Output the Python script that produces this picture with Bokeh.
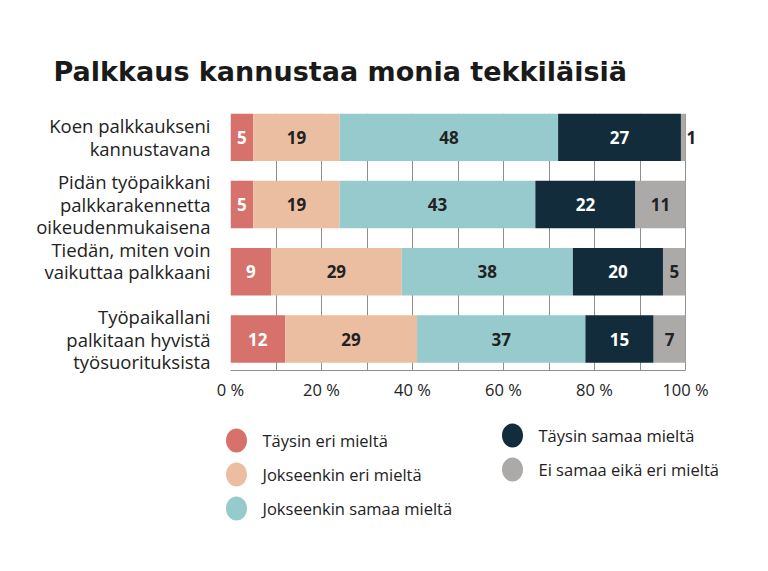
from bokeh.plotting import figure
from bokeh.models import ColumnDataSource, LabelSet, Range1d, FixedTicker
from bokeh.embed import file_html
from bokeh.resources import INLINE
from bokeh.core.properties import value

# ---- data -------------------------------------------------------------
title_text = "Palkkaus kannustaa monia tekkiläisiä"

statements = [
    "Koen palkkaukseni\nkannustavana",
    "Pidän työpaikkani\npalkkarakennetta\noikeudenmukaisena",
    "Tiedän, miten voin\nvaikuttaa palkkaani\n",
    "Työpaikallani\npalkitaan hyvistä\ntyösuorituksista",
]

series_names = [
    "Täysin eri mieltä",
    "Jokseenkin eri mieltä",
    "Jokseenkin samaa mieltä",
    "Täysin samaa mieltä",
    "Ei samaa eikä eri mieltä",
]

taysin_eri = [5, 5, 9, 12]
jokseenkin_eri = [19, 19, 29, 29]
jokseenkin_samaa = [48, 43, 38, 37]
taysin_samaa = [27, 22, 20, 15]
ei_samaa_eika_eri = [1, 11, 5, 7]

tick_values = [0, 20, 40, 60, 80, 100]
tick_labels = ["0 %", "20 %", "40 %", "60 %", "80 %", "100 %"]

# ---- styling ----------------------------------------------------------
series_values = [taysin_eri, jokseenkin_eri, jokseenkin_samaa, taysin_samaa, ei_samaa_eika_eri]
fill_colors = ["#d6716b", "#ecbea1", "#96cacc", "#122c3c", "#abaaa8"]
text_colors = ["#ffffff", "#222222", "#222222", "#ffffff", "#222222"]
grid_color = "#8e8e8e"
ink = "#222222"
font = "Open Sans"

rows = list(range(len(statements)))
totals = [sum(s[i] for s in series_values) for i in rows]

# frame is 475 px wide; 0..100 % spans 455 px, the rest leaves room for
# labels of very thin end segments
p = figure(
    width=768, height=415,
    x_range=Range1d(0, 100 * 475 / 455),
    y_range=Range1d(len(rows) - 1 + 0.468, -0.352),
    min_border_left=230, min_border_right=63,
    min_border_top=113, min_border_bottom=45,
    toolbar_location=None, output_backend="svg",
    outline_line_color=None,
)

lab_x, lab_y, lab_t, lab_c, lab_align, lab_off = [], [], [], [], [], []
cum = [0.0] * len(rows)
for vals, fc, tc in zip(series_values, fill_colors, text_colors):
    left = [cum[i] / totals[i] * 100 for i in rows]
    right = [(cum[i] + vals[i]) / totals[i] * 100 for i in rows]
    p.hbar(y=rows, left=left, right=right, height=0.705,
           fill_color=fc, line_color=None)
    for i in rows:
        if vals[i] < 3:
            lab_x.append(right[i]); lab_align.append("left"); lab_off.append(1)
            lab_c.append(ink)
        else:
            lab_x.append((left[i] + right[i]) / 2); lab_align.append("center"); lab_off.append(0)
            lab_c.append(tc)
        lab_y.append(i)
        lab_t.append(str(vals[i]))
        cum[i] += vals[i]

labels_src = ColumnDataSource(dict(x=lab_x, y=lab_y, text=lab_t, color=lab_c,
                                   align=lab_align, off=lab_off))
p.add_layout(LabelSet(
    x="x", y="y", text="text", source=labels_src,
    x_offset="off", text_align="align", text_baseline="middle",
    text_color="color", text_font=value(font), text_font_style="bold",
    text_font_size="17px",
))

# ---- axes & grid ------------------------------------------------------
p.xaxis.ticker = FixedTicker(ticks=tick_values)
p.xaxis.bounds = (0, 100)
p.xaxis.major_label_overrides = dict(zip(tick_values, tick_labels))
p.xaxis.major_tick_out = 0
p.xaxis.major_tick_in = 0
p.xaxis.minor_tick_line_color = None
p.xaxis.axis_line_color = grid_color
p.xaxis.major_label_standoff = 7
p.xaxis.major_label_text_font = font
p.xaxis.major_label_text_font_size = "16.5px"
p.xaxis.major_label_text_color = ink

p.yaxis.ticker = FixedTicker(ticks=rows)
p.yaxis.major_label_overrides = {i: s for i, s in zip(rows, statements)}
p.yaxis.major_tick_out = 0
p.yaxis.major_tick_in = 0
p.yaxis.minor_tick_line_color = None
p.yaxis.axis_line_color = None
p.yaxis.major_label_standoff = 20
p.yaxis.major_label_text_font = font
p.yaxis.major_label_text_font_size = "18.5px"
p.yaxis.major_label_text_line_height = 0.9
p.yaxis.major_label_text_color = ink
p.yaxis.major_label_text_align = "right"

p.xgrid.ticker = FixedTicker(ticks=list(range(0, 101, 10)))
p.xgrid.bounds = (0, 100)
p.xgrid.grid_line_color = grid_color
p.xgrid.grid_line_width = 1
p.xgrid.level = "underlay"
p.ygrid.grid_line_color = None

p.title.text = title_text
p.title.align = "left"
p.title.offset = -177
p.title.standoff = 53
p.title.text_font = "DejaVu Sans"
p.title.text_font_style = "bold"
p.title.text_font_size = "27px"
p.title.text_color = "#1a1a1a"

# ---- legend (drawn in its own pixel-scaled canvas) --------------------
leg = figure(
    width=768, height=156,
    x_range=Range1d(0, 768), y_range=Range1d(156, 0),
    min_border=0, x_axis_location=None, y_axis_location=None,
    toolbar_location=None, output_backend="svg", outline_line_color=None,
)
leg.grid.visible = False

per_col = 3
col_x = [236, 512]
col_y0 = [25, 20]
row_step = 34
blob_x = [col_x[i // per_col] for i in range(len(series_names))]
blob_y = [col_y0[i // per_col] + (i % per_col) * row_step for i in range(len(series_names))]
leg.ellipse(x=blob_x, y=blob_y, width=21, height=24,
            width_units="screen", height_units="screen",
            fill_color=fill_colors, line_color=None)
leg.text(x=[x + 26 for x in blob_x], y=blob_y, text=series_names,
         text_baseline="middle", text_align="left",
         text_font=value(font), text_font_size="16.5px", text_color=ink)

open("out.html", "w").write(file_html([p, leg], INLINE))
